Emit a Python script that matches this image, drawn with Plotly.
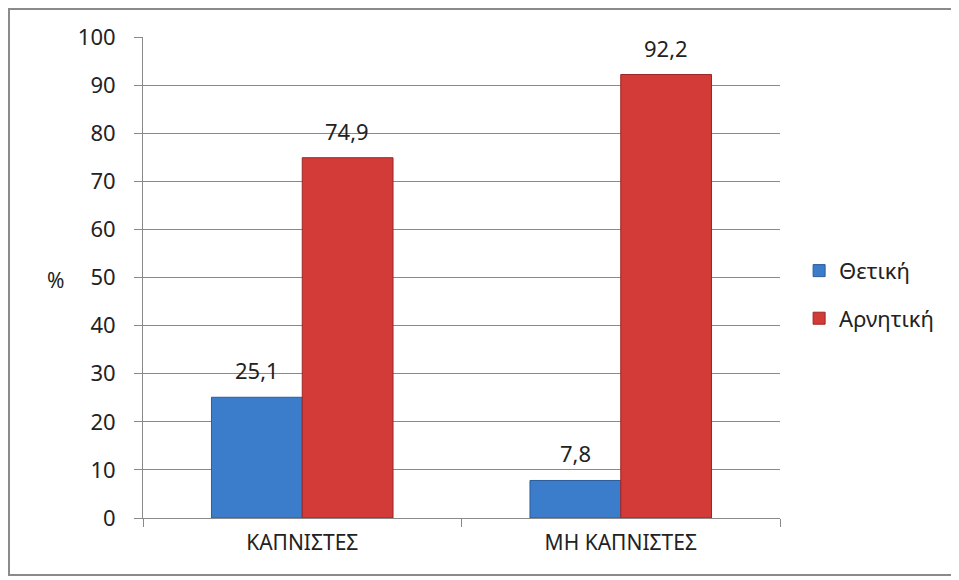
import plotly.graph_objects as go

# Chart data
categories = ["ΚΑΠΝΙΣΤΕΣ", "ΜΗ ΚΑΠΝΙΣΤΕΣ"]
positive = [25.1, 7.8]
negative = [74.9, 92.2]
series_names = ["Θετική", "Αρνητική"]

# page body adds an 8px offset, so the figure is 8px smaller and shifted
fig = go.Figure()
fig.add_trace(go.Bar(
    x=categories, y=positive, name=series_names[0], legendgroup="a",
    marker=dict(color="#3b7dcb", line=dict(color="#2a5d99", width=1)),
))
fig.add_trace(go.Bar(
    x=categories, y=negative, name=series_names[1], legendgroup="b",
    marker=dict(color="#d23b37", line=dict(color="#9c2624", width=1)),
))

# value labels, a bit above the bars (comma decimals)
for vals, shift in [(positive, -45), (negative, 45)]:
    for cat, v in zip(categories, vals):
        fig.add_annotation(x=cat, y=v, xref="x", yref="y", xshift=shift,
                           yshift=10, yanchor="bottom", showarrow=False,
                           text=f"{v:.1f}".replace(".", ","),
                           font=dict(size=22, color="#222"))

fig.update_layout(
    width=951, height=572,
    margin=dict(l=135, r=179, t=29, b=62),
    barmode="group", bargap=0.43, bargroupgap=0,
    plot_bgcolor="white", paper_bgcolor="white",
    font=dict(family="Noto Sans", size=22, color="#222"),
    legend=dict(x=1.03, xanchor="left", y=0.464, yanchor="middle",
                font=dict(size=22), traceorder="grouped", tracegroupgap=16),
    showlegend=True,
)
fig.update_yaxes(
    range=[0, 100], dtick=10, showgrid=True, gridcolor="#8a8a8a", gridwidth=1,
    showline=True, linecolor="#8a8a8a", ticks="outside", ticklen=8,
    tickcolor="#8a8a8a", zeroline=False, ticklabelstandoff=14,
    tickfont=dict(size=22),
)
fig.update_xaxes(
    showline=True, linecolor="#8a8a8a", ticks="outside", ticklen=8,
    tickcolor="#8a8a8a", tickson="boundaries", ticklabelstandoff=6,
    tickfont=dict(size=21),
)

fig.add_annotation(xref="paper", yref="paper", x=-0.1366, y=0.495,
                   xanchor="center", yanchor="middle",
                   text="%", showarrow=False, font=dict(size=21))

# Outer frame
fig.add_shape(type="rect", xref="paper", yref="paper",
              x0=-0.2104, x1=1.276, y0=-0.1185, y1=1.0582,
              line=dict(color="#8a8a8a", width=2))

fig.write_html("out.html")
